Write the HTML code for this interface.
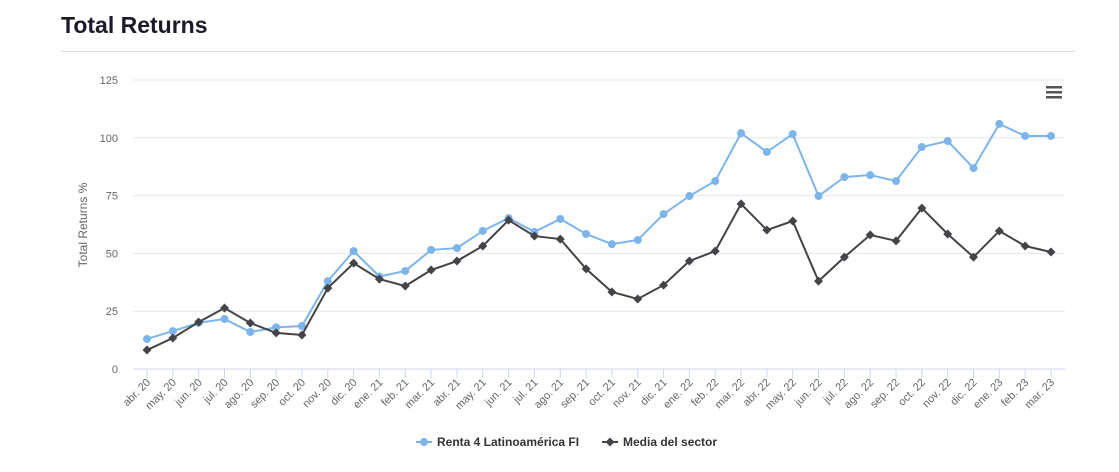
<!DOCTYPE html>
<html><head><meta charset="utf-8"><style>
body{margin:0;background:#fff;font-family:"Liberation Sans",sans-serif}
#wrap{position:relative;width:1119px;height:472px;overflow:hidden}
h1{position:absolute;left:61px;top:12px;margin:0;font-size:23px;font-weight:bold;color:#1a1a2a}
#rule{position:absolute;left:61px;top:51px;width:1014px;height:1px;background:#ddd}
svg{position:absolute;left:0;top:0}
</style></head><body>
<div id="wrap">
<h1>Total Returns</h1>
<div id="rule"></div>
<svg id="chart" width="1119" height="472"></svg>
</div>
<script>
const categories=["abr. 20","may. 20","jun. 20","jul. 20","ago. 20","sep. 20","oct. 20","nov. 20","dic. 20","ene. 21","feb. 21","mar. 21","abr. 21","may. 21","jun. 21","jul. 21","ago. 21","sep. 21","oct. 21","nov. 21","dic. 21","ene. 22","feb. 22","mar. 22","abr. 22","may. 22","jun. 22","jul. 22","ago. 22","sep. 22","oct. 22","nov. 22","dic. 22","ene. 23","feb. 23","mar. 23"];
const fundValues=[13,16.4,20,21.6,16,18,18.6,38,51,40,42.4,51.5,52.3,59.7,65.3,59.3,64.9,58.4,54,55.8,67,74.8,81.3,102,93.9,101.6,74.8,83,83.9,81.3,96,98.6,86.9,106,100.8,100.8];
const sectorValues=[8.2,13.4,20.3,26.4,19.9,15.6,14.7,35,45.8,38.9,35.9,42.8,46.7,53.2,64.4,57.5,56.2,43.3,33.3,30.3,36.3,46.7,51,71.4,60.1,64,38,48.4,58,55.4,69.6,58.4,48.4,59.7,53.2,50.6];
const yTicks=[0,25,50,75,100,125];
const NS="http://www.w3.org/2000/svg",svg=document.getElementById('chart');
const x0=147,x1=1051,yb=369,yt=80,ymax=125;
const xs=i=>x0+(x1-x0)*i/(categories.length-1);
const ys=v=>yb-(yb-yt)*v/ymax;
function el(t,a,p){const e=document.createElementNS(NS,t);for(const k in a)e.setAttribute(k,a[k]);(p||svg).appendChild(e);return e;}
yTicks.forEach(t=>{
 const g=el('line',{x1:133,x2:1065,y1:ys(t),y2:ys(t),stroke:t===0?'#ccd6eb':'#e6e6e6'});
 
 
 const tx=el('text',{x:118,y:ys(t)+4,'text-anchor':'end','font-size':11,fill:'#666'});tx.textContent=t;
 
 
});
const yt2=el('text',{x:0,y:0,transform:'translate(87,225) rotate(-90)','text-anchor':'middle','font-size':12,fill:'#666'});
yt2.textContent='Total Returns %';


categories.forEach((c,i)=>{
 const tk=el('line',{x1:xs(i),x2:xs(i),y1:369,y2:378,stroke:'#ccd6eb'});
 
 
 const t=el('text',{x:0,y:0,transform:`translate(${xs(i)+4},${383}) rotate(-45)`,'text-anchor':'end','font-size':11,fill:'#666'});
 t.textContent=c;
 
 
});
function series(vals,color,name,marker){
 const p=el('polyline',{points:vals.map((v,i)=>xs(i)+','+ys(v)).join(' '),fill:'none',stroke:color,'stroke-width':2});
 
 
 vals.forEach((v,i)=>{
  let m;
  if(marker==='circle')m=el('circle',{cx:xs(i),cy:ys(v),r:4,fill:color});
  else{const x=xs(i),y=ys(v);m=el('path',{d:`M${x},${y-4.5}L${x+4.5},${y}L${x},${y+4.5}L${x-4.5},${y}Z`,fill:color});}
  
  
 });
}
series(fundValues,'#7cb5ec','fund','circle');
series(sectorValues,'#434348','sector','diamond');
// menu icon
[0,5,10].forEach(d=>{const r=el('rect',{x:1046,y:86+d,width:16,height:2.5,fill:'#555'});
 
 });
// legend
const lg=el('g',{});


el('line',{x1:416,x2:432,y1:442,y2:442,stroke:'#7cb5ec','stroke-width':2},lg);
el('circle',{cx:424,cy:442,r:4,fill:'#7cb5ec'},lg);
const l1=el('text',{x:437,y:446,'font-size':12,'font-weight':'bold',fill:'#333'},lg);l1.textContent='Renta 4 Latinoamérica FI';


el('line',{x1:602,x2:618,y1:442,y2:442,stroke:'#434348','stroke-width':2},lg);
el('path',{d:'M610,437.5L614.5,442L610,446.5L605.5,442Z',fill:'#434348'},lg);
const l2=el('text',{x:623,y:446,'font-size':12,'font-weight':'bold',fill:'#333'},lg);l2.textContent='Media del sector';


</script>
</body></html>
